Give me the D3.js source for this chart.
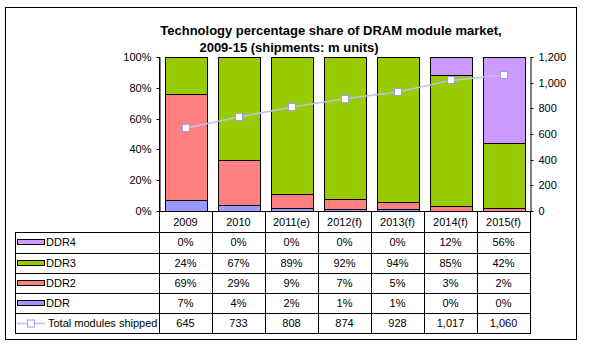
<!DOCTYPE html>
<html><head><meta charset="utf-8">
<script src="https://cdn.jsdelivr.net/npm/d3@7"></script>
<style>body{margin:0;background:#fff}svg{display:block}text{font-family:"Liberation Sans",Arial,sans-serif}</style>
</head><body><svg id="c" width="602" height="350"></svg>
<script>
const categories = ["2009","2010","2011(e)","2012(f)","2013(f)","2014(f)","2015(f)"];
const ddr  = [7,4,2,1,1,0,0];
const ddr2 = [69,29,9,7,5,3,2];
const ddr3 = [24,67,89,92,94,85,42];
const ddr4 = [0,0,0,0,0,12,56];
const totals = [645,733,808,874,928,1017,1060];
const leftTicks = [0,20,40,60,80,100];
const rightTicks = [0,200,400,600,800,1000,1200];
const seriesNames = ["DDR","DDR2","DDR3","DDR4"];
const colors = {DDR:"#9999ff",DDR2:"#ff8080",DDR3:"#99cc00",DDR4:"#cc99ff"};

const svg = d3.select("#c");
const L=159, R=530, T=57, B=211;
svg.append("rect").attr("x",5.5).attr("y",7.5).attr("width",571).attr("height",332).attr("fill","#fff").attr("stroke","#000");

svg.append("text").attr("x",331).attr("y",35).attr("text-anchor","middle").attr("font-weight","bold").attr("font-size",13).text("Technology percentage share of DRAM module market,");
svg.append("text").attr("x",289).attr("y",52).attr("text-anchor","middle").attr("font-weight","bold").attr("font-size",13).text("2009-15 (shipments: m units)");

const x = d3.scaleBand().domain(categories).range([L,R]).paddingInner(0.21).paddingOuter(0.105);
const xc = d3.scaleBand().domain(categories).range([L,R]);
const y = d3.scaleLinear().domain([0,100]).range([B,T]);
const y2 = d3.scaleLinear().domain([0,1200]).range([B,T]);

const rows = categories.map((c,i)=>({cat:c,DDR:ddr[i],DDR2:ddr2[i],DDR3:ddr3[i],DDR4:ddr4[i]}));
const stack = d3.stack().keys(seriesNames)(rows);
const g = svg.append("g");
stack.forEach(s=>{
  g.selectAll(null).data(s.filter(d=>d[1]-d[0]>0)).enter().append("rect")
   .attr("x",d=>Math.round(x(d.data.cat))+0.5).attr("width",Math.round(x.bandwidth()))
   .attr("y",d=>Math.round(y(d[1]))+0.5).attr("height",d=>Math.round(y(d[0]))-Math.round(y(d[1])))
   .attr("fill",colors[s.key]).attr("stroke","#000").attr("stroke-width",1);
});

// axes
const ax = svg.append("g").attr("transform",`translate(${L+0.5},0)`).call(d3.axisLeft(y).tickValues(leftTicks).tickFormat(d=>d+"%").tickSize(3).tickSizeOuter(0));
const ax2 = svg.append("g").attr("transform",`translate(${R+0.5},0)`).call(d3.axisRight(y2).tickValues(rightTicks).tickFormat(d3.format(",")).tickSize(3).tickSizeOuter(0));
[ax,ax2].forEach(a=>{a.select(".domain").attr("stroke","#000");a.selectAll("text").attr("font-size",11).attr("fill","#000").attr("font-family","Liberation Sans, Arial, sans-serif");a.selectAll("line").attr("stroke","#000");});
ax.selectAll(".tick").attr("transform",d=>`translate(0,${Math.round(y(d))+0.5})`);
ax2.selectAll(".tick").attr("transform",d=>`translate(0,${Math.round(y2(d))+0.5})`);
ax.selectAll("text").attr("x",-8);
ax2.selectAll("text").attr("x",8);
svg.append("line").attr("x1",L).attr("x2",R+1).attr("y1",B+0.5).attr("y2",B+0.5).attr("stroke","#000");

// line
const line = d3.line().x((d,i)=>xc(categories[i])+xc.bandwidth()/2).y(d=>y2(d));
svg.append("path").attr("d",line(totals)).attr("fill","none").attr("stroke","#c0c0f0").attr("stroke-width",1.5);
svg.selectAll(null).data(totals).enter().append("rect")
  .attr("x",(d,i)=>Math.round(xc(categories[i])+xc.bandwidth()/2)-3.5).attr("y",d=>Math.round(y2(d))-3.5)
  .attr("width",7).attr("height",7).attr("fill","#fff").attr("stroke","#9999ff");

// table
const rowY=[232,253,273,293,313,333];
const TL=15;
const tg = svg.append("g").attr("stroke","#000").attr("stroke-width",1);
rowY.forEach(v=>tg.append("line").attr("x1",TL).attr("x2",R+1).attr("y1",v+0.5).attr("y2",v+0.5));
tg.append("line").attr("x1",TL+0.5).attr("x2",TL+0.5).attr("y1",232).attr("y2",333.5);
categories.forEach((c,i)=>{
  const xx=Math.round(xc(c))+0.5;
  tg.append("line").attr("x1",xx).attr("x2",xx).attr("y1",i===0?T:B).attr("y2",333.5);
});
tg.append("line").attr("x1",R+0.5).attr("x2",R+0.5).attr("y1",B).attr("y2",333.5);

categories.forEach((c,i)=>{
  svg.append("text").attr("x",xc(c)+xc.bandwidth()/2).attr("y",226).attr("text-anchor","middle").attr("font-size",11).text(c);
});
const tableRows=[
  {name:"DDR4",vals:ddr4.map(v=>v+"%")},
  {name:"DDR3",vals:ddr3.map(v=>v+"%")},
  {name:"DDR2",vals:ddr2.map(v=>v+"%")},
  {name:"DDR",vals:ddr.map(v=>v+"%")},
  {name:"Total modules shipped",vals:totals.map(d3.format(",")),line:true}
];
tableRows.forEach((r,ri)=>{
  const top=rowY[ri], mid=top+10;
  if(r.line){
    svg.append("line").attr("x1",17).attr("x2",45).attr("y1",mid+0.5).attr("y2",mid+0.5).attr("stroke","#c0c0f0").attr("stroke-width",1.5);
    svg.append("rect").attr("x",27.5).attr("y",mid-3).attr("width",7).attr("height",7).attr("fill","#fff").attr("stroke","#9999ff");
  } else {
    svg.append("rect").attr("x",17.5).attr("y",mid-2.5).attr("width",27).attr("height",5).attr("fill",colors[r.name]).attr("stroke","#000");
  }
  svg.append("text").attr("x",r.line?48:46).attr("y",mid+4).attr("font-size",11).text(r.name);
  r.vals.forEach((v,i)=>{
    svg.append("text").attr("x",xc(categories[i])+xc.bandwidth()/2).attr("y",mid+4).attr("text-anchor","middle").attr("font-size",11).text(v);
  });
});
</script></body></html>
